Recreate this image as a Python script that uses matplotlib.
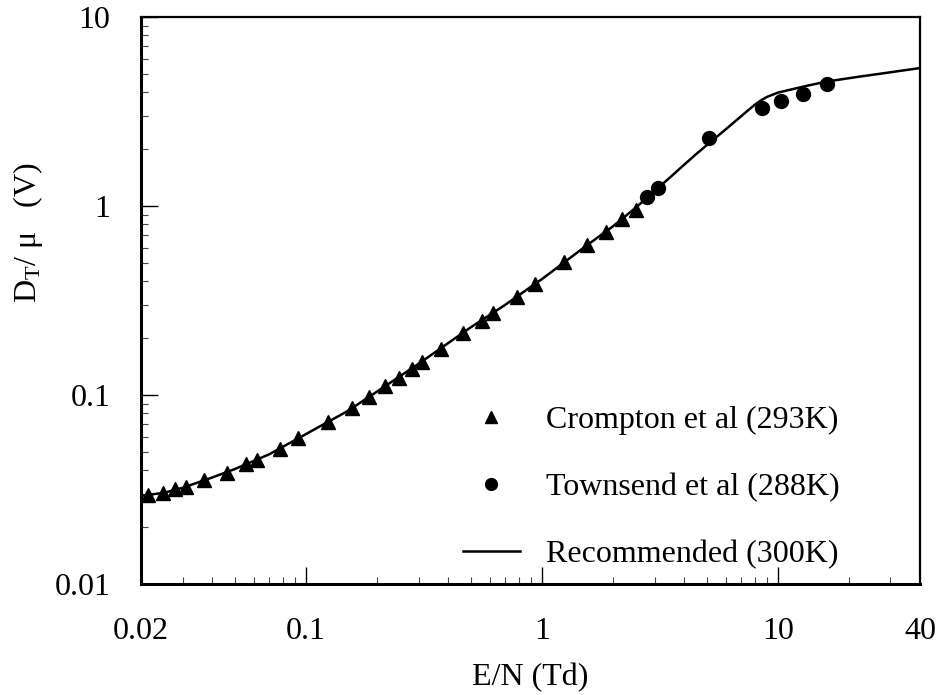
import numpy as np
import matplotlib
matplotlib.use("Agg")
from matplotlib import pyplot as plt
from matplotlib.ticker import LogLocator, FixedLocator, FixedFormatter, NullFormatter

plt.rcParams['font.family'] = ['Liberation Serif', 'DejaVu Serif']
plt.rcParams['mathtext.fontset'] = 'custom'
plt.rcParams['mathtext.rm'] = 'Liberation Serif'
plt.rcParams['mathtext.it'] = 'Liberation Serif:italic'

# Crompton et al (293K)
crompton_en = [0.0214, 0.0248, 0.0279, 0.0310, 0.0370, 0.0462, 0.0557, 0.062, 0.0776, 0.0925,
               0.124, 0.157, 0.185, 0.216, 0.248, 0.281, 0.310, 0.373, 0.462, 0.557,
               0.621, 0.783, 0.933, 1.24, 1.55, 1.87, 2.18, 2.50]
crompton_dt = [0.0296, 0.0303, 0.0318, 0.0326, 0.0355, 0.0386, 0.0431, 0.0453, 0.0518, 0.0592,
               0.0720, 0.0853, 0.0975, 0.1117, 0.123, 0.137, 0.150, 0.175, 0.213, 0.246,
               0.272, 0.330, 0.386, 0.506, 0.622, 0.728, 0.853, 0.953]

# Townsend et al (288K)
townsend_en = [2.79, 3.10, 5.10, 8.56, 10.3, 12.8, 16.1]
townsend_dt = [1.12, 1.24, 2.29, 3.30, 3.60, 3.92, 4.43]

# Recommended (300K)
rec_en = [0.02, 0.025, 0.03, 0.04, 0.05, 0.07, 0.1, 0.15, 0.2, 0.3, 0.5, 0.7, 1.0, 1.5, 2.0,
          2.5, 3.0, 3.5, 4.0, 4.5, 5.0, 6.0, 7.0, 7.5, 8.0, 8.5, 9.0, 10.0, 13.0, 16.0, 22.0,
          30.0, 40.0]
rec_dt = [0.0292, 0.0303, 0.0322, 0.0365, 0.0405, 0.0485, 0.062, 0.082, 0.104, 0.146, 0.228,
          0.30, 0.41, 0.60, 0.78, 0.98, 1.20, 1.42, 1.65, 1.88, 2.10, 2.54, 2.99, 3.22, 3.44,
          3.63, 3.78, 3.98, 4.30, 4.55, 4.83, 5.10, 5.37]

x_labels = ['0.02', '0.1', '1', '10', '40']
x_label_pos = [0.02, 0.1, 1, 10, 40]
y_labels = ['0.01', '0.1', '1', '10']
y_label_pos = [0.01, 0.1, 1, 10]

fs = 23

fig = plt.figure(figsize=(9.46, 6.95), dpi=100)
ax = fig.add_axes([0.149, 0.160, 0.8235, 0.8155])

ax.plot(crompton_en, crompton_dt, linestyle='none', marker='^', markersize=10,
        color='black', label='Crompton et al (293K)')
ax.plot(townsend_en, townsend_dt, linestyle='none', marker='o', markersize=10,
        color='black', label='Townsend et al (288K)')
ax.plot(rec_en, rec_dt, color='black', linewidth=1.8, label='Recommended (300K)')

ax.set_xscale('log')
ax.set_yscale('log')
ax.set_xlim(0.02, 40)
ax.set_ylim(0.01, 10)

# x ticks: majors at decades, labels also at the axis ends
ax.xaxis.set_major_locator(FixedLocator([0.1, 1, 10]))
ax.xaxis.set_major_formatter(NullFormatter())
ax.xaxis.set_minor_locator(LogLocator(base=10, subs=np.arange(2, 10)))
ax.xaxis.set_minor_formatter(NullFormatter())
for xv, lab in zip(x_label_pos, x_labels):
    ax.text(xv, -0.058, lab, transform=ax.get_xaxis_transform(), ha='center', va='top',
            fontsize=fs)

ax.yaxis.set_major_locator(FixedLocator(y_label_pos))
ax.yaxis.set_major_formatter(FixedFormatter(y_labels))
ax.yaxis.set_minor_locator(LogLocator(base=10, subs=np.arange(2, 10)))
ax.yaxis.set_minor_formatter(NullFormatter())

ax.tick_params(which='both', direction='in', top=False, right=False, labelsize=fs)
ax.tick_params(which='major', length=12, width=1.0, pad=22)
ax.tick_params(which='minor', length=5, width=0.8, color='#444444')

for side in ['left', 'bottom']:
    ax.spines[side].set_linewidth(2.2)
for side in ['top', 'right']:
    ax.spines[side].set_linewidth(1.6)

ax.set_xlabel('E/N (Td)', fontsize=fs, labelpad=35)
ax.set_ylabel('D$_\\mathrm{T}$/ μ   (V)', fontsize=fs)
ax.yaxis.set_label_coords(-0.123, 0.62)

ax.legend(loc='lower left', bbox_to_anchor=(0.413, 0.026), frameon=False, fontsize=fs,
          handlelength=1.8, handletextpad=0.8, labelspacing=1.18, borderpad=0,
          borderaxespad=0, markerscale=0.85)

fig.savefig('out.png', dpi=100)
